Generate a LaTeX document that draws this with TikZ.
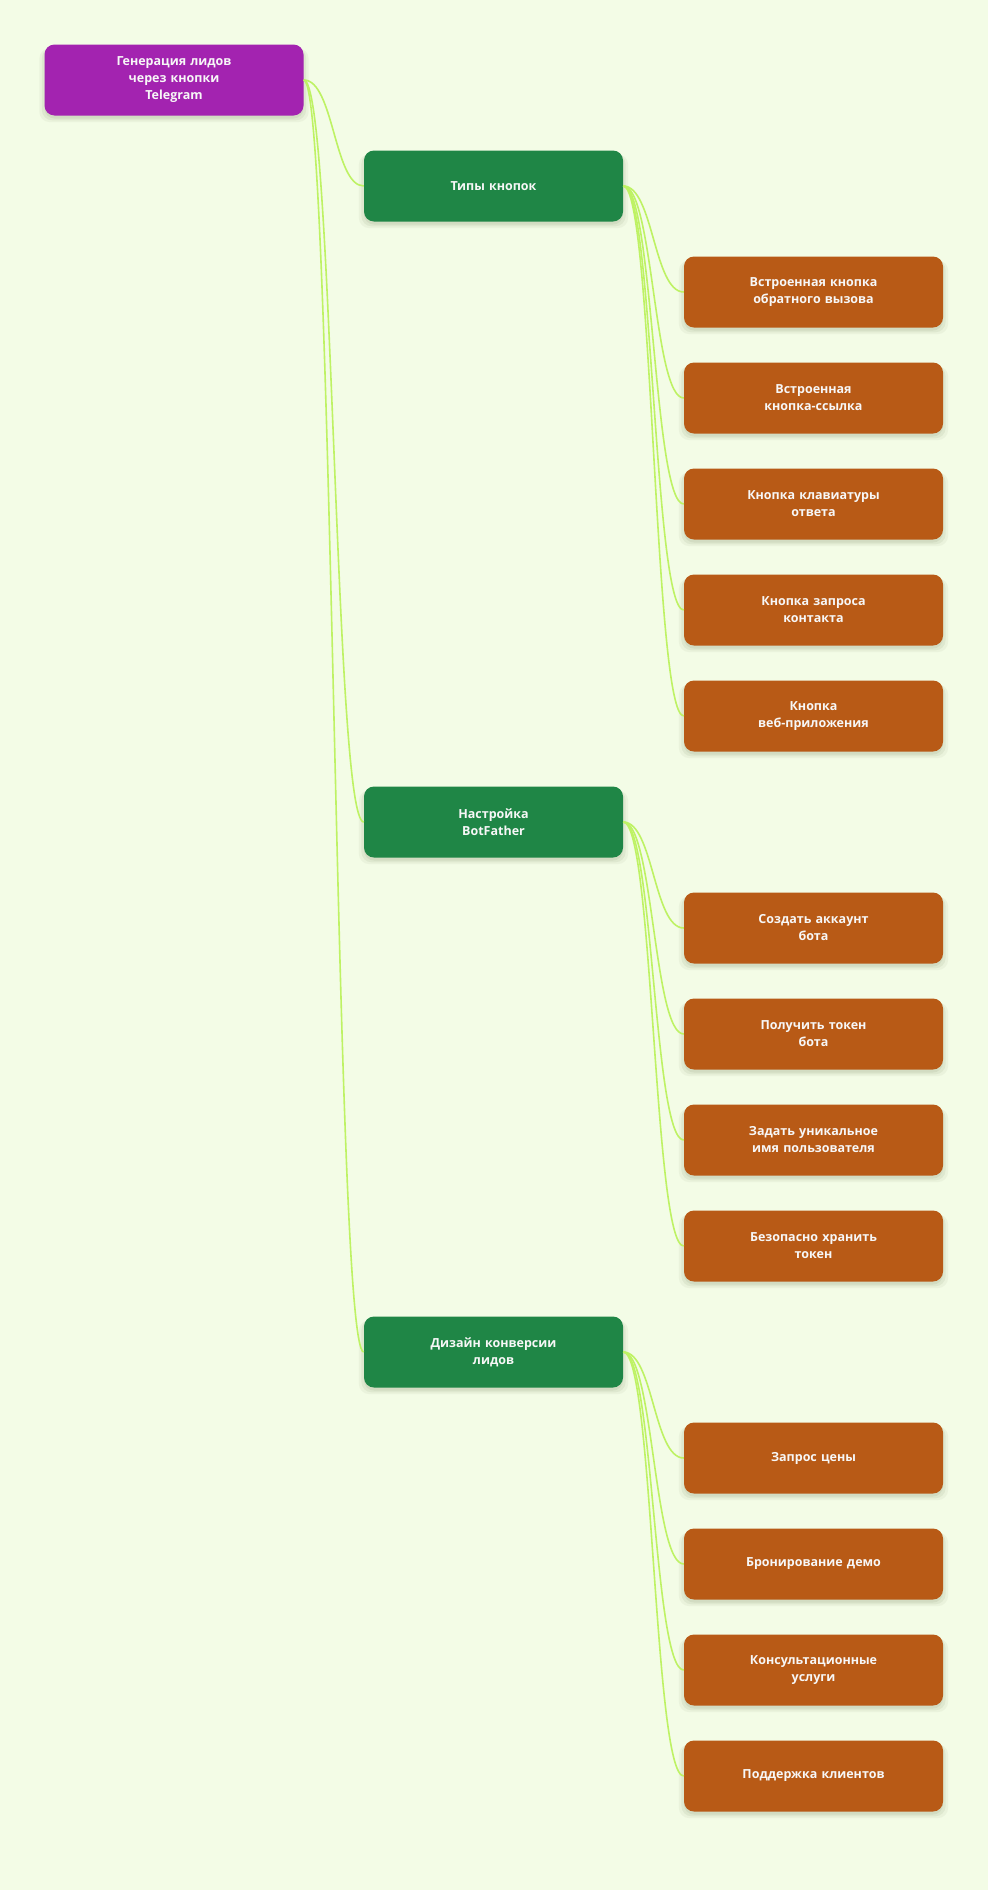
\documentclass[tikz,border=0pt]{standalone}
\usepackage{fontspec}
\setmainfont{Open Sans}
\usetikzlibrary{shadows,calc}
\definecolor{bgc}{HTML}{F3FCE6}
\definecolor{rootc}{HTML}{A323B0}
\definecolor{greenc}{HTML}{1F8646}
\definecolor{orangec}{HTML}{B85A16}
\definecolor{linkc}{HTML}{BEF264}
\definecolor{txtc}{HTML}{F7F7F7}
\definecolor{shc}{HTML}{4A5A30}
\tikzset{
  box/.style={rounded corners=10pt, minimum width=259pt, minimum height=71pt,
    text width=240pt, align=center, text=txtc,
    font=\fontsize{12.5}{17}\selectfont\bfseries,
    general shadow={fill=shc, opacity=0.05, shadow xshift=0pt, shadow yshift=-5pt, shadow scale=1.04},
    general shadow={fill=shc, opacity=0.07, shadow xshift=0pt, shadow yshift=-4pt, shadow scale=1.02},
    general shadow={fill=shc, opacity=0.08, shadow xshift=0pt, shadow yshift=-3pt, shadow scale=1.0}},
  rootbox/.style={box, fill=rootc},
  topicbox/.style={box, fill=greenc},
  leafbox/.style={box, fill=orangec},
  conn/.style={draw=linkc, line width=1.6pt}
}
\newcommand{\linkit}[3]{\draw[conn] (#1.east) .. controls (#1.east -| #3) and (#2.west -| #3) .. (#2.west);}
\begin{document}
\begin{tikzpicture}[x=1pt,y=-1pt]
\useasboundingbox (0,0) rectangle (988,1890);
\fill[bgc] (0,0) rectangle (988,1890);
\coordinate (m0) at (334,0);
\coordinate (m1) at (653.5,0);

\node[rootbox] (root) at (174,80) {Генерация лидов\\через кнопки\\Telegram};

\node[topicbox] (g1) at (493.5,186) {Типы кнопок};
\node[leafbox] (a1) at (813.5,292) {Встроенная кнопка\\обратного вызова};
\node[leafbox] (a2) at (813.5,398) {Встроенная\\кнопка-ссылка};
\node[leafbox] (a3) at (813.5,504) {Кнопка клавиатуры\\ответа};
\node[leafbox] (a4) at (813.5,610) {Кнопка запроса\\контакта};
\node[leafbox] (a5) at (813.5,716) {Кнопка\\веб-приложения};

\node[topicbox] (g2) at (493.5,822) {Настройка\\BotFather};
\node[leafbox] (b1) at (813.5,928) {Создать аккаунт\\бота};
\node[leafbox] (b2) at (813.5,1034) {Получить токен\\бота};
\node[leafbox] (b3) at (813.5,1140) {Задать уникальное\\имя пользователя};
\node[leafbox] (b4) at (813.5,1246) {Безопасно хранить\\токен};

\node[topicbox] (g3) at (493.5,1352) {Дизайн конверсии\\лидов};
\node[leafbox] (c1) at (813.5,1458) {Запрос цены};
\node[leafbox] (c2) at (813.5,1564) {Бронирование демо};
\node[leafbox] (c3) at (813.5,1670) {Консультационные\\услуги};
\node[leafbox] (c4) at (813.5,1776) {Поддержка клиентов};

\linkit{root}{g1}{m0}
\linkit{root}{g2}{m0}
\linkit{root}{g3}{m0}
\foreach \c in {a1,a2,a3,a4,a5}{\linkit{g1}{\c}{m1}}
\foreach \c in {b1,b2,b3,b4}{\linkit{g2}{\c}{m1}}
\foreach \c in {c1,c2,c3,c4}{\linkit{g3}{\c}{m1}}
\end{tikzpicture}
\end{document}
